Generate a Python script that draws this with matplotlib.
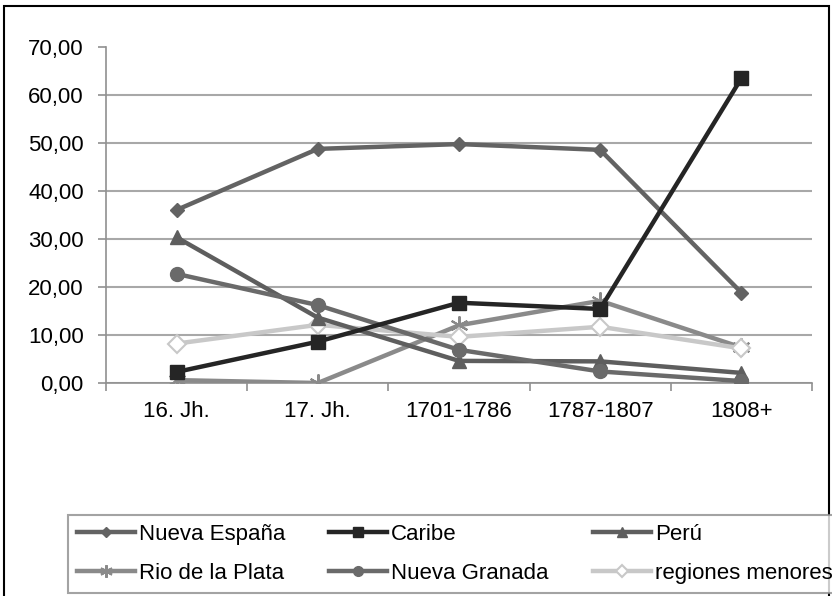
import numpy as np
import matplotlib
matplotlib.use("Agg")
import matplotlib.pyplot as plt
from matplotlib.patches import Rectangle

plt.rcParams['font.family'] = ['Liberation Sans', 'DejaVu Sans']

periods = ["16. Jh.", "17. Jh.", "1701-1786", "1787-1807", "1808+"]

nueva_espana   = [36.0, 48.7, 49.7, 48.5, 18.8]
caribe         = [2.3, 8.6, 16.7, 15.4, 63.4]
peru           = [30.3, 13.6, 4.6, 4.5, 2.1]
rio_plata      = [0.6, 0.0, 12.0, 17.1, 7.4]
nueva_granada  = [22.7, 16.2, 6.9, 2.4, 0.4]
regiones_men   = [8.2, 12.1, 9.6, 11.7, 7.2]

yticks = [0, 10, 20, 30, 40, 50, 60, 70]

W, H = 832, 596
fig = plt.figure(figsize=(W / 100, H / 100), dpi=100)
ax = fig.add_axes([106 / W, 1 - 383 / H, (812 - 106) / W, (383 - 46.5) / H])

x = np.arange(len(periods))
lw = 3.2
l_ne, = ax.plot(x, nueva_espana, color="#636363", lw=lw, marker="D", ms=7.5, label="Nueva España", zorder=5)
l_ca, = ax.plot(x, caribe, color="#252525", lw=lw, marker="s", ms=10, label="Caribe", zorder=6)
l_pe, = ax.plot(x, peru, color="#5e5e5e", lw=lw, marker="^", ms=10, label="Perú", zorder=4)
l_rp, = ax.plot(x, rio_plata, color="#8a8a8a", lw=lw, marker=(6, 2, 0), ms=13, mew=1.5, label="Rio de la Plata", zorder=3)
l_ng, = ax.plot(x, nueva_granada, color="#6a6a6a", lw=lw, marker="o", ms=10, label="Nueva Granada", zorder=4)
l_rm, = ax.plot(x, regiones_men, color="#c8c8c8", lw=lw, marker="D", ms=9, mfc="white", mec="#c8c8c8", mew=1.5,
                label="regiones menores", zorder=3)

ax.set_xlim(-0.5, len(periods) - 0.5)
ax.set_ylim(0, 70)
ax.set_yticks(yticks)
ax.set_yticklabels([f"{v:.2f}".replace(".", ",") for v in yticks])
ax.set_xticks(x)
ax.set_xticklabels(periods)
ax.set_xticks(np.arange(len(periods) + 1) - 0.5, minor=True)

ax.tick_params(axis="x", which="major", length=0, pad=13, labelsize=16)
ax.tick_params(axis="x", which="minor", length=6, width=1.2, color="#909090", direction="out")
ax.tick_params(axis="y", length=6, width=1.2, color="#909090", pad=10, labelsize=16)

ax.yaxis.grid(True, color="#a8a8a8", lw=1.5)
ax.set_axisbelow(True)
ax.get_ygridlines()[-1].set_visible(False)
for s in ["top", "right"]:
    ax.spines[s].set_visible(False)
for s in ["left", "bottom"]:
    ax.spines[s].set_color("#909090")
    ax.spines[s].set_linewidth(1.2)

# legend is filled row by row, matplotlib fills by column
handles = [l_ne, l_rp, l_ca, l_ng, l_pe, l_rm]
leg = fig.legend(handles, [h.get_label() for h in handles], loc="upper left",
                 bbox_to_anchor=(68 / W, 1 - 515 / H), ncol=3, fontsize=16,
                 frameon=True, fancybox=False, handlelength=2.6, handletextpad=0.18,
                 columnspacing=2.0, labelspacing=0.8, borderpad=0.4, borderaxespad=0,
                 markerscale=0.7)
leg.get_frame().set_edgecolor("#8c8c8c")
leg.get_frame().set_linewidth(1.5)

fig.patches.append(Rectangle((4 / W, -0.05), (829 - 4) / W, 1 - 6 / H + 0.05, transform=fig.transFigure,
                             fill=False, edgecolor="black", lw=1.5))

fig.savefig("out.png", dpi=100)
